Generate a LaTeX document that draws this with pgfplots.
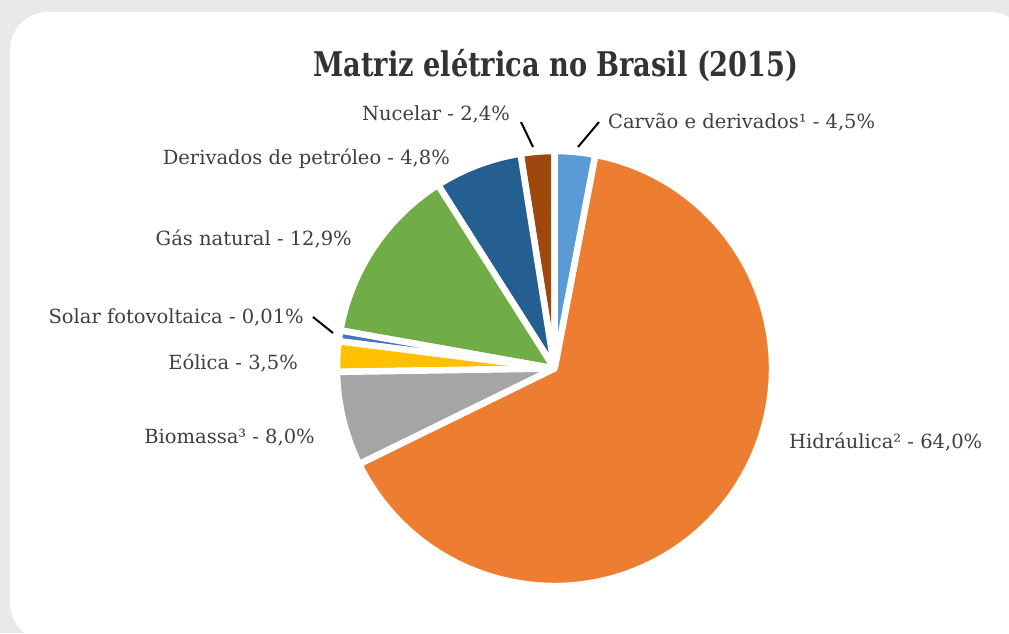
\documentclass[border=0pt]{standalone}
\usepackage{fontspec}
\setmainfont{DejaVu Serif}
\newfontfamily\titlefont{DejaVu Serif}[FakeStretch=0.8]
\usepackage{pgfplots}
\usepackage{pgfplotstable}
\pgfplotsset{compat=1.18}

\definecolor{cCar}{HTML}{5B9BD5}
\definecolor{cHid}{HTML}{ED7D31}
\definecolor{cBio}{HTML}{A5A5A5}
\definecolor{cEol}{HTML}{FFC000}
\definecolor{cSol}{HTML}{4472C4}
\definecolor{cGas}{HTML}{70AD47}
\definecolor{cDer}{HTML}{255E91}
\definecolor{cNuc}{HTML}{9E480E}
\definecolor{bggray}{HTML}{E9E9E9}
\definecolor{txt}{HTML}{3F3F3F}
\definecolor{ttl}{HTML}{333333}

% slice shares (percent of the drawn pie), counter-clockwise from 12 o'clock
\pgfplotstableread{
share color
2.5   cNuc
6.5   cDer
13.2  cGas
0.8   cSol
2.25  cEol
7.0   cBio
64.75 cHid
3.0   cCar
}\piedata

\begin{document}
\begin{tikzpicture}[x=1pt,y=1pt]
\useasboundingbox (0,0) rectangle (1009,633);
\clip (0,0) rectangle (1009,633);
\fill[bggray] (0,0) rectangle (1009,633);
\fill[white, rounded corners=38pt] (10,-8) rectangle (1028,621);

\begin{axis}[
  at={(0,0)}, anchor=south west,
  x=1pt, y=1pt,
  xmin=0, xmax=1009, ymin=0, ymax=633,
  hide axis, clip=false,
]
\pgfplotstablegetrowsof{\piedata}
\pgfmathtruncatemacro\N{\pgfplotsretval-1}
\def\cum{90}
\pgfplotsforeachungrouped \i in {0,...,\N}{%
  \pgfplotstablegetelem{\i}{share}\of\piedata \let\v\pgfplotsretval
  \pgfplotstablegetelem{\i}{color}\of\piedata \let\c\pgfplotsretval
  \pgfmathsetmacro\a{\cum}%
  \pgfmathsetmacro\b{\cum+3.6*\v}%
  \edef\temp{\noexpand\fill[\c, draw=white, line width=6.5pt, line join=round]
    (axis cs:554.5,264.5) -- ++(\a:217.5pt) arc[start angle=\a, end angle=\b, radius=217.5pt] -- cycle;}%
  \temp
  \global\let\cum\b
}
\end{axis}

% title
\node[anchor=base, text=ttl, font=\titlefont\bfseries\fontsize{34}{40}\selectfont, inner sep=0pt] at (556,556) {Matriz elétrica no Brasil (2015)};

% labels
\begin{scope}[every node/.style={text=txt, font=\fontsize{19.5}{23}\selectfont, inner sep=0pt}]
\node[anchor=base east] at (510,512) {Nucelar - 2,4\%};
\node[anchor=base west] at (608,504) {Carvão e derivados¹ - 4,5\%};
\node[anchor=base east] at (450,468) {Derivados de petróleo - 4,8\%};
\node[anchor=base east] at (352,388) {Gás natural - 12,9\%};
\node[anchor=base east] at (304,310) {Solar fotovoltaica - 0,01\%};
\node[anchor=base east] at (298,264) {Eólica - 3,5\%};
\node[anchor=base east] at (315,190) {Biomassa³ - 8,0\%};
\node[anchor=base west] at (789,185) {Hidráulica² - 64,0\%};
\end{scope}

% leader lines
\draw[black, line width=2pt] (521,511) -- (533,486);
\draw[black, line width=2pt] (599,511) -- (578,486);
\draw[black, line width=2pt] (313,316) -- (333,300);
\end{tikzpicture}
\end{document}
